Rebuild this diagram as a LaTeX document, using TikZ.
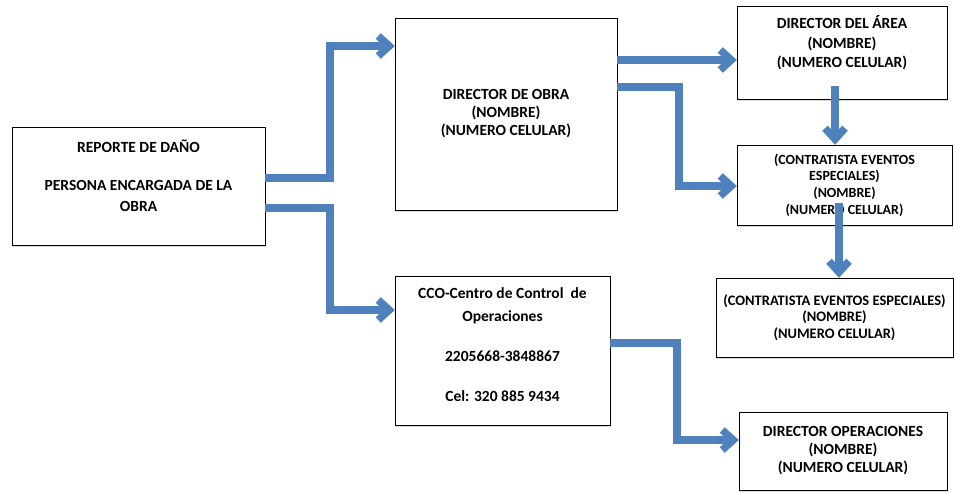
\documentclass[tikz,border=0pt]{standalone}
\usepackage{fontspec}
\setmainfont{Carlito}
\usetikzlibrary{arrows.meta,positioning,shadows,calc}
\definecolor{flechaAzul}{RGB}{79,129,189}

\begin{document}
\begin{tikzpicture}[x=1pt, y=-1pt,
  caja/.style={draw, thin, fill=white, inner sep=0pt, align=center,
               font=\bfseries\fontsize{15.5}{18}\selectfont,
               drop shadow={shadow xshift=1pt, shadow yshift=-2pt, opacity=.3}},
  flecha/.style={line width=7.5pt, flechaAzul, -{Straight Barb[length=11pt,width=20pt]}}
]
  \useasboundingbox (0,0) rectangle (954,493);

  % cajas
  \node[caja, minimum width=253pt, minimum height=118pt] (reporte) at (138.5,186)
       {REPORTE DE DAÑO\\[20pt]PERSONA ENCARGADA DE LA\\[3pt]OBRA\\[2pt]\mbox{}};
  \node[caja, minimum width=222pt, minimum height=192pt] (dirObra) at (506,114)
       {DIRECTOR DE OBRA\\(NOMBRE)\\(NUMERO CELULAR)};
  \node[caja, minimum width=215pt, minimum height=149pt] (cco) at (502.5,350.5)
       {CCO-Centro de Control\ \ de\\[5pt]Operaciones\\[22pt]2205668-3848867\\[22pt]Cel: 320 885 9434\\[-6pt]\mbox{}};
  \node[caja, minimum width=210pt, minimum height=93pt] (dirArea) at (842,52.5)
       {DIRECTOR DEL ÁREA\\[1.5pt](NOMBRE)\\[1.5pt](NUMERO CELULAR)\\[4pt]\mbox{}};
  \node[caja, minimum width=215pt, minimum height=80pt, font=\bfseries\fontsize{14}{16.7}\selectfont] (contra1) at (844.5,185)
       {(CONTRATISTA EVENTOS\\ESPECIALES)\\(NOMBRE)\\(NUMERO CELULAR)};
  \node[caja, minimum width=237pt, minimum height=79pt, font=\bfseries\fontsize{14.5}{16.5}\selectfont] (contra2) at (834.5,317.5)
       {(CONTRATISTA EVENTOS ESPECIALES)\\(NOMBRE)\\(NUMERO CELULAR)};
  \node[caja, minimum width=208pt, minimum height=78pt] (dirOper) at (843,451)
       {DIRECTOR OPERACIONES\\(NOMBRE)\\(NUMERO CELULAR)};

  \coordinate (a1) at (835,86);
  \coordinate (a2) at (839,203);

  % flechas
  \draw[flecha] (reporte.east |- 0,178) -| (330,46) -- (dirObra.west |- 0,46);
  \draw[flecha] (reporte.east |- 0,208) -| (330,310) -- (cco.west |- 0,310);
  \draw[flecha] (dirObra.east |- 0,60) -- (dirArea.west |- 0,60);
  \draw[flecha] (dirObra.east |- 0,87) -| (679,186) -- (contra1.west |- 0,186);
  \draw[flecha] (a1) -- (contra1.north -| a1);
  \draw[flecha] (a2) -- (contra2.north -| a2);
  \draw[flecha] (cco.east |- 0,343) -| (677,440) -- (dirOper.west |- 0,440);
\end{tikzpicture}
\end{document}
